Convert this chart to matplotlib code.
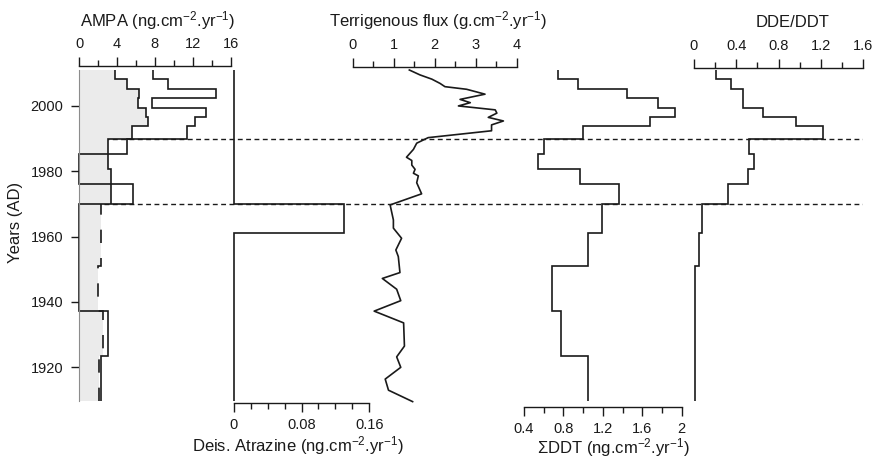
import matplotlib
matplotlib.use("Agg")
import matplotlib.pyplot as plt
from matplotlib.ticker import MultipleLocator, FormatStrFormatter

plt.rcParams['font.family'] = ['Liberation Sans', 'DejaVu Sans']
plt.rcParams['mathtext.fontset'] = 'custom'
plt.rcParams['mathtext.rm'] = 'Liberation Sans'
plt.rcParams['mathtext.it'] = 'Liberation Sans:italic'
plt.rcParams['font.size'] = 10.5

# sediment layer boundaries (years AD), top of the core first
layer_edges = [2011.0, 2008.2, 2005.1, 2002.4, 1999.5, 1996.7, 1993.9, 1990.0,
               1985.3, 1980.6, 1976.0, 1970.0, 1961.1, 1950.9, 1937.3, 1923.6, 1909.6]

# one value per layer
ampa_filled = [3.8, 5.1, 6.3, 6.2, 7.1, 7.3, 5.6, 3.1, 3.1, 3.4, 3.4, 2.3, 2.3, 2.0, 2.5, 2.1]
ampa_line = [7.8, 9.35, 14.5, 7.7, 13.4, 12.2, 11.4, 5.1, 0, 0, 5.7, 0, 0, 0, 3.1, 2.3]
deis_atrazine = [0, 0, 0, 0, 0, 0, 0, 0, 0, 0, 0, 0.13, 0, 0, 0, 0]
sum_ddt = [0.75, 0.95, 1.45, 1.76, 1.93, 1.68, 1.0, 0.6, 0.54, 0.97, 1.36, 1.19, 1.05, 0.68, 0.78, 1.05]
dde_ddt = [0.21, 0.35, 0.46, 0.46, 0.655, 0.964, 1.216, 0.523, 0.567, 0.513, 0.318,
           0.079, 0.047, 0.009, 0.009, 0.009]

# terrigenous flux, continuous profile
terr_years = [2011.0, 2009.5, 2008.2, 2006.9, 2005.9, 2005.1, 2003.6, 2002.0, 2001.0, 2000.0,
              1998.8, 1997.8, 1996.5, 1995.4, 1994.2, 1992.4, 1990.3, 1988.6, 1986.7, 1984.3,
              1983.3, 1981.9, 1980.6, 1979.4, 1978.6, 1976.5, 1973.1, 1969.7, 1965.1, 1962.6,
              1959.5, 1955.9, 1953.9, 1949.0, 1947.2, 1943.9, 1940.4, 1937.2, 1933.6, 1926.5,
              1923.2, 1920.0, 1916.4, 1913.0, 1909.5]
terr_flux = [1.38, 1.64, 1.93, 2.13, 2.25, 2.78, 3.23, 2.62, 2.87, 2.58,
             3.48, 3.52, 3.31, 3.68, 3.39, 3.39, 1.84, 1.56, 1.48, 1.31,
             1.44, 1.44, 1.52, 1.48, 1.60, 1.56, 1.68, 0.91, 0.99, 0.99,
             1.19, 1.05, 1.11, 1.15, 0.72, 1.07, 1.17, 0.52, 1.24, 1.26,
             1.07, 1.17, 0.79, 0.87, 1.46]

year_ticks = [1920, 1940, 1960, 1980, 2000]
event_years = [1990, 1970]

W, H = 875, 458
top_px, bot_px = 70, 401.3
ink = '#1a1a1a'
lw = 1.2
title_size = 12

fig = plt.figure(figsize=(W / 100, H / 100), dpi=100)

edges = layer_edges[::-1]
cut = layer_edges.index(1970.0)


def panel(x0, x1):
    # one axes per column, placed in pixels, all sharing the same year scale
    ax = fig.add_axes([x0 / W, 1 - bot_px / H, (x1 - x0) / W, (bot_px - top_px) / H])
    ax.patch.set_visible(False)
    for s in ax.spines.values():
        s.set_visible(False)
    ax.set_ylim(min(layer_edges), max(layer_edges))
    ax.set_yticks([])
    return ax


def x_axis(ax, lo, hi, major, minor, side, offset, pad):
    ax.set_xlim(lo, hi)
    ax.spines[side].set_visible(True)
    ax.spines[side].set_position(('outward', offset))
    ax.spines[side].set_linewidth(1.0)
    ax.spines[side].set_color(ink)
    if side == 'top':
        ax.xaxis.tick_top()
    else:
        ax.xaxis.tick_bottom()
    ax.xaxis.set_major_locator(MultipleLocator(major))
    ax.xaxis.set_minor_locator(MultipleLocator(minor))
    ax.xaxis.set_major_formatter(FormatStrFormatter('%g'))
    ax.tick_params(axis='x', which='major', length=6.5, width=1.0, color=ink, pad=pad,
                   labelsize=10.5, labelcolor=ink)
    ax.tick_params(axis='x', which='minor', length=4.0, width=1.0, color=ink)


# dashed horizons across all the columns
axd = panel(79, 863.3)
axd.set_xticks([])
for yr in event_years:
    axd.axhline(yr, color=ink, lw=1.0, ls=(0, (3.5, 2.5)))

# AMPA
ax1 = panel(79, 230.7)
ax1.stairs(ampa_filled[::-1], edges, orientation='horizontal', baseline=0, fill=True,
           color='#ebebeb', lw=0)
ax1.spines['left'].set_visible(True)
ax1.spines['left'].set_color('#8c8c8c')
ax1.spines['left'].set_linewidth(0.8)
ax1.stairs(ampa_filled[:cut][::-1], layer_edges[:cut + 1][::-1], orientation='horizontal',
           baseline=None, color=ink, lw=lw, clip_on=False)
ax1.stairs(ampa_filled[cut:][::-1], layer_edges[cut:][::-1], orientation='horizontal',
           baseline=None, color=ink, lw=lw, ls=(0, (8, 9)), clip_on=False)
ax1.stairs(ampa_line[::-1], edges, orientation='horizontal', baseline=None, color=ink, lw=lw,
           clip_on=False)
x_axis(ax1, 0, 16, 4, 2, 'top', 3.2, 4.2)
ax1.set_yticks(year_ticks)
ax1.tick_params(axis='y', length=5.8, width=1.0, color=ink, pad=5.5, labelsize=10.5,
                labelcolor=ink)

# Deisopropyl atrazine
ax2 = panel(233.7, 369.3)
ax2.stairs(deis_atrazine[::-1], edges, orientation='horizontal', baseline=None, color=ink, lw=lw,
           clip_on=False)
x_axis(ax2, 0, 0.16, 0.08, 0.02, 'bottom', 1.0, 4.6)

# terrigenous flux
ax3 = panel(352.9, 516.5)
ax3.plot(terr_flux, terr_years, color=ink, lw=lw, clip_on=False)
x_axis(ax3, 0, 4, 1, 0.5, 'top', 2.0, 4.2)

# sum DDT
ax4 = panel(524, 681.7)
ax4.stairs(sum_ddt[::-1], edges, orientation='horizontal', baseline=None, color=ink, lw=lw,
           clip_on=False)
x_axis(ax4, 0.4, 2.0, 0.4, 0.2, 'bottom', 4.0, 4.4)

# DDE/DDT ratio
ax5 = panel(694, 863.3)
ax5.stairs(dde_ddt[::-1], edges, orientation='horizontal', baseline=None, color=ink, lw=lw,
           clip_on=False)
x_axis(ax5, 0, 1.6, 0.4, 0.2, 'top', 1.2, 4.2)

# column titles
unit = r'(ng.cm$^{-2}$.yr$^{-1}$)'
fig.text(157.5 / W, 1 - 26.7 / H, 'AMPA ' + unit, ha='center', va='baseline', color=ink,
         fontsize=title_size)
fig.text(438.5 / W, 1 - 26.7 / H, r'Terrigenous flux (g.cm$^{-2}$.yr$^{-1}$)', ha='center',
         va='baseline', color=ink, fontsize=title_size)
fig.text(792.5 / W, 1 - 26.7 / H, 'DDE/DDT', ha='center', va='baseline', color=ink,
         fontsize=title_size)
fig.text(298 / W, 1 - 451 / H, 'Deis. Atrazine ' + unit, ha='center', va='baseline', color=ink,
         fontsize=title_size)
fig.text(613 / W, 1 - 453 / H, 'ΣDDT ' + unit, ha='center', va='baseline', color=ink,
         fontsize=title_size)
fig.text(16 / W, 1 - 222 / H, 'Years (AD)', ha='center', va='center', rotation=90, color=ink,
         fontsize=title_size)

fig.savefig('out.png', dpi=100)
